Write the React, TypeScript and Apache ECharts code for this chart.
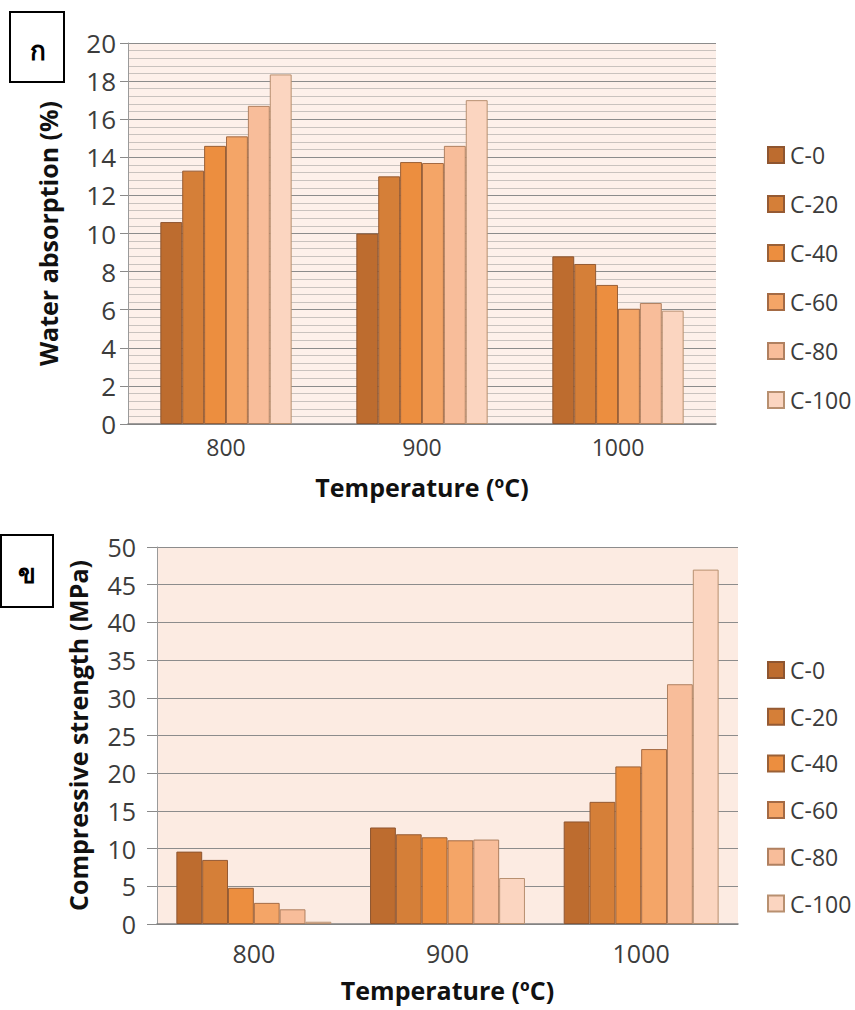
import React, { useEffect, useRef } from "react";
import * as echarts from "echarts";

// Firing temperatures (°C)
const temperatures = ["800", "900", "1000"];
// Clay mixes
const mixes = ["C-0", "C-20", "C-40", "C-60", "C-80", "C-100"];

// Water absorption (%) per mix, ordered by temperature 800 / 900 / 1000
const absorptionC0 = [10.6, 10.0, 8.8];
const absorptionC20 = [13.3, 13.0, 8.4];
const absorptionC40 = [14.6, 13.75, 7.3];
const absorptionC60 = [15.1, 13.7, 6.05];
const absorptionC80 = [16.7, 14.6, 6.35];
const absorptionC100 = [18.35, 17.0, 5.95];

// Compressive strength (MPa) per mix, ordered by temperature 800 / 900 / 1000
const strengthC0 = [9.6, 12.8, 13.6];
const strengthC20 = [8.5, 11.9, 16.2];
const strengthC40 = [4.8, 11.5, 20.9];
const strengthC60 = [2.8, 11.1, 23.2];
const strengthC80 = [1.95, 11.2, 31.8];
const strengthC100 = [0.3, 6.1, 47.0];

// Axis ticks
const absorptionTicks = [0, 2, 4, 6, 8, 10, 12, 14, 16, 18, 20];
const strengthTicks = [0, 5, 10, 15, 20, 25, 30, 35, 40, 45, 50];

const absorptionSeries = [absorptionC0, absorptionC20, absorptionC40, absorptionC60, absorptionC80, absorptionC100];
const strengthSeries = [strengthC0, strengthC20, strengthC40, strengthC60, strengthC80, strengthC100];

const fills = ["#bd6c2f", "#d57f38", "#ec8e3f", "#f4a567", "#f8bd9a", "#fbd5c0"];
const borders = ["#8e5530", "#955a33", "#9a6036", "#a46a44", "#b08060", "#b89070"];

const FONT = "'Open Sans', 'DejaVu Sans', sans-serif";
const TEXT = "#3c3c3c";

export default function App() {
  const ref = useRef<HTMLDivElement>(null);

  useEffect(() => {
    if (!ref.current) return;
    const chart = echarts.init(ref.current, null, { renderer: "svg" });

    const titleStyle = { fontFamily: FONT, fontWeight: "bold", fontSize: 25, color: "#111" };

    const yAxisBase = (ticks: number[], fontSize: number, tickLen: number, margin: number) => ({
      type: "value" as const,
      min: ticks[0],
      max: ticks[ticks.length - 1],
      interval: ticks[1] - ticks[0],
      nameLocation: "middle" as const,
      nameRotate: 90,
      nameTextStyle: titleStyle,
      axisLine: { show: true, lineStyle: { color: "#9a9a9a", width: 1 } },
      axisTick: { show: true, length: tickLen, lineStyle: { color: "#8a8a8a" } },
      axisLabel: { fontFamily: FONT, fontSize, color: TEXT, margin },
    });

    const xAxisBase = (gridIndex: number, fontSize: number, margin: number, nameGap: number) => ({
      type: "category" as const,
      gridIndex,
      data: temperatures,
      name: "Temperature (ºC)",
      nameLocation: "middle" as const,
      nameGap,
      nameTextStyle: titleStyle,
      axisLine: { show: true, lineStyle: { color: "#808080", width: 1.5 } },
      axisTick: { show: false },
      axisLabel: { fontFamily: FONT, fontSize, color: TEXT, margin },
    });

    const legendBase = {
      orient: "vertical" as const,
      left: 762,
      itemWidth: 16,
      itemHeight: 16,
      icon: "rect",
      textStyle: { fontFamily: FONT, fontSize: 23, color: TEXT, lineHeight: 24, padding: [0, 0, 0, 1] },
      data: mixes,
    };

    const makeSeries = (values: number[][], axisIndex: number, gap: string) =>
      values.map((data, i) => ({
        type: "bar" as const,
        name: mixes[i],
        xAxisIndex: axisIndex,
        yAxisIndex: axisIndex,
        data,
        barGap: "0%",
        barCategoryGap: gap,
        itemStyle: { color: fills[i], borderColor: borders[i], borderWidth: 1 },
      }));

    chart.setOption({
      animation: false,
      grid: [
        { left: 128, top: 43, width: 588, height: 381, show: true, backgroundColor: "#fdf0ea", borderWidth: 0 },
        { left: 157, top: 547, width: 581, height: 377, show: true, backgroundColor: "#fcebe2", borderWidth: 0 },
      ],
      xAxis: [xAxisBase(0, 23, 11, 50), xAxisBase(1, 25, 16, 53)],
      yAxis: [
        {
          ...yAxisBase(absorptionTicks, 26, 8, 12),
          gridIndex: 0,
          name: "Water absorption (%)",
          nameGap: 68,
          minorTick: { show: false, splitNumber: 5 },
          minorSplitLine: { show: true, lineStyle: { color: "#c9c2be", width: 1 } },
          splitLine: { show: true, lineStyle: { color: "#8c8c8c", width: 1 } },
        },
        {
          ...yAxisBase(strengthTicks, 25, 10, 21),
          gridIndex: 1,
          name: "Compressive strength (MPa)",
          nameGap: 67,
          splitLine: { show: true, lineStyle: { color: "#8c8c8c", width: 1.2 } },
        },
      ],
      legend: [
        { ...legendBase, top: 138, itemGap: 25 },
        { ...legendBase, top: 653, itemGap: 22.7 },
      ],
      series: [...makeSeries(absorptionSeries, 0, "33%"), ...makeSeries(strengthSeries, 1, "20%")],
      graphic: [
        { type: "rect", shape: { x: 10, y: 12, width: 54, height: 70 }, style: { fill: "#fff", stroke: "#000", lineWidth: 2 } },
        {
          type: "text",
          x: 38,
          y: 50,
          style: { text: "ก", fontSize: 26, fontWeight: "bold", fill: "#000", align: "center", verticalAlign: "middle", fontFamily: "'Noto Sans', 'DejaVu Sans', sans-serif" },
        },
        { type: "rect", shape: { x: 1, y: 535, width: 52, height: 72 }, style: { fill: "#fff", stroke: "#000", lineWidth: 2 } },
        {
          type: "text",
          x: 27,
          y: 573,
          style: { text: "ข", fontSize: 26, fontWeight: "bold", fill: "#000", align: "center", verticalAlign: "middle", fontFamily: "'Noto Sans', 'DejaVu Sans', sans-serif" },
        },
      ],
    });

    return () => chart.dispose();
  }, []);

  return (
    <div
      ref={ref}
      style={{ position: "fixed", left: 0, top: 0, width: 855, height: 1010, background: "#fff" }}
    />
  );
}
